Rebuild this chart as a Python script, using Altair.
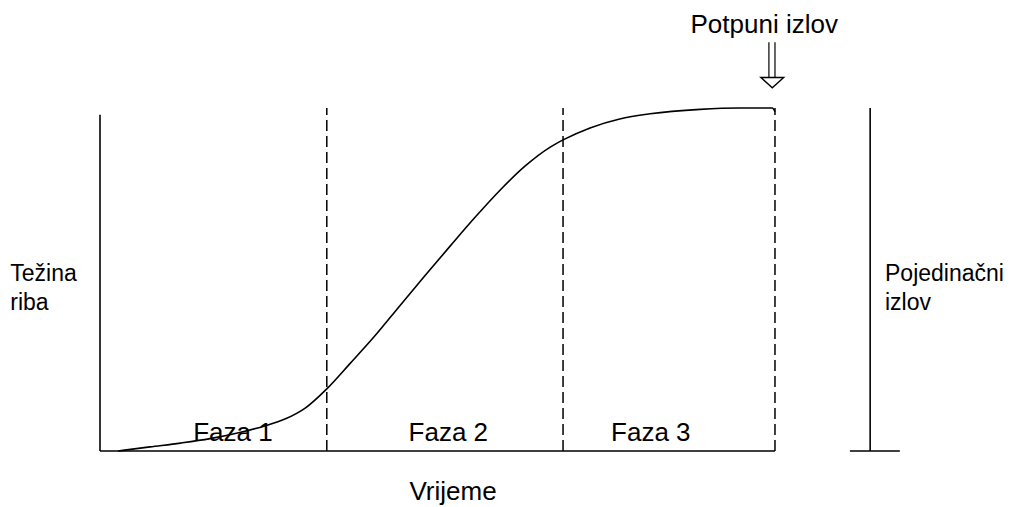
import altair as alt
import pandas as pd

# --- data (time units: 0 = start, 100 = full harvest; weight units: 0..100) ---
curve_t = [2.7, 7.4, 11.9, 16.3, 20.7, 24.4, 27.4, 30.4, 33.6, 37.0, 40.7, 44.4,
           48.1, 51.9, 55.6, 59.3, 63.0, 66.7, 68.6, 72.6, 77.0, 81.5, 88.9, 94.8,
           99.6, 100.0]
curve_w = [0.0, 1.2, 2.3, 3.6, 5.4, 7.3, 9.3, 12.5, 18.1, 25.4, 33.5, 42.3,
           51.0, 59.8, 68.2, 76.1, 83.1, 88.6, 90.7, 94.2, 96.8, 98.3, 99.6, 100.0,
           100.0, 98.9]

phase_bounds = [33.6, 68.6, 100.0]
phase_labels = ["Faza 1", "Faza 2", "Faza 3"]
phase_label_t = [19.7, 51.6, 81.6]

axis_t = [0.0]
single_harvest_t = [114.1]
single_harvest_tick = [111.1, 118.5]

left_labels = ["Težina", "riba"]
right_labels = ["Pojedinačni", "izlov"]
label_w = [49.6, 41.2]

T_MIN, T_MAX = -13.63, 136.3
W_MIN, W_MAX = -16.33, 129.15

xs = alt.Scale(domain=[T_MIN, T_MAX], nice=False, zero=False)
ys = alt.Scale(domain=[W_MIN, W_MAX], nice=False, zero=False)


def X(f="t"):
    return alt.X(f"{f}:Q", scale=xs, axis=None)


def Y(f="w"):
    return alt.Y(f"{f}:Q", scale=ys, axis=None)


FONT = "Liberation Sans"

curve = alt.Chart(pd.DataFrame({"t": curve_t, "w": curve_w})).mark_line(
    color="black", strokeWidth=1.6, interpolate="monotone"
).encode(x=X(), y=Y(), order="t:Q")

baseline = alt.Chart(pd.DataFrame({"t": [0.0], "t2": [phase_bounds[-1]], "w": [0.0]})).mark_rule(
    color="black", strokeWidth=1.6
).encode(x=X(), x2="t2:Q", y=Y())

left_axis = alt.Chart(pd.DataFrame({"t": axis_t, "w": [0.0], "w2": [98.0]})).mark_rule(
    color="black", strokeWidth=1.6
).encode(x=X(), y=Y(), y2="w2:Q")

dashed = alt.Chart(pd.DataFrame({"t": phase_bounds, "w": [0.0] * 3, "w2": [100.0] * 3})).mark_rule(
    color="black", strokeWidth=1.5, strokeDash=[11, 5]
).encode(x=X(), y=Y(), y2="w2:Q")

right_axis = alt.Chart(pd.DataFrame({"t": single_harvest_t, "w": [0.0], "w2": [100.0]})).mark_rule(
    color="black", strokeWidth=1.6
).encode(x=X(), y=Y(), y2="w2:Q")

right_tick = alt.Chart(pd.DataFrame({"t": [single_harvest_tick[0]], "t2": [single_harvest_tick[1]], "w": [0.0]})).mark_rule(
    color="black", strokeWidth=1.6
).encode(x=X(), x2="t2:Q", y=Y())

# arrow "Potpuni izlov"
arrow_shaft = alt.Chart(pd.DataFrame({"t": [99.1, 100.0], "w": [108.7, 108.7], "w2": [119.2, 119.2]})).mark_rule(
    color="black", strokeWidth=1.2
).encode(x=X(), y=Y(), y2="w2:Q")

arrow_head = alt.Chart(pd.DataFrame({"t": [99.6], "w": [107.4]})).mark_point(
    shape="M -1 -0.45 L 1 -0.45 L 0 0.45 Z", filled=True, fill="white",
    stroke="black", strokeWidth=1.4, opacity=1, size=520
).encode(x=X(), y=Y())

phase_text = alt.Chart(pd.DataFrame({"t": phase_label_t, "w": [2.9] * 3, "label": phase_labels})).mark_text(
    font=FONT, fontSize=26, align="center", baseline="alphabetic", color="black"
).encode(x=X(), y=Y(), text="label:N")

left_text = alt.Chart(pd.DataFrame({"t": [-13.3, -13.3], "w": label_w, "label": left_labels})).mark_text(
    font=FONT, fontSize=23, align="left", baseline="alphabetic", color="black"
).encode(x=X(), y=Y(), text="label:N")

right_text = alt.Chart(pd.DataFrame({"t": [116.3, 116.3], "w": label_w, "label": right_labels})).mark_text(
    font=FONT, fontSize=23, align="left", baseline="alphabetic", color="black"
).encode(x=X(), y=Y(), text="label:N")

x_title = alt.Chart(pd.DataFrame({"t": [52.3], "w": [-14.3], "label": ["Vrijeme"]})).mark_text(
    font=FONT, fontSize=26, align="center", baseline="alphabetic", color="black"
).encode(x=X(), y=Y(), text="label:N")

top_text = alt.Chart(pd.DataFrame({"t": [98.4], "w": [121.9], "label": ["Potpuni izlov"]})).mark_text(
    font=FONT, fontSize=26, align="center", baseline="alphabetic", color="black"
).encode(x=X(), y=Y(), text="label:N")

chart = alt.layer(
    baseline, left_axis, dashed, right_axis, right_tick, curve,
    arrow_shaft, arrow_head, phase_text, left_text, right_text, x_title, top_text
).properties(
    width=1012, height=499, padding=0, autosize="none", background="white"
).configure_view(stroke=None)

chart.save("out.html", embed_options={"renderer": "svg", "actions": False})
